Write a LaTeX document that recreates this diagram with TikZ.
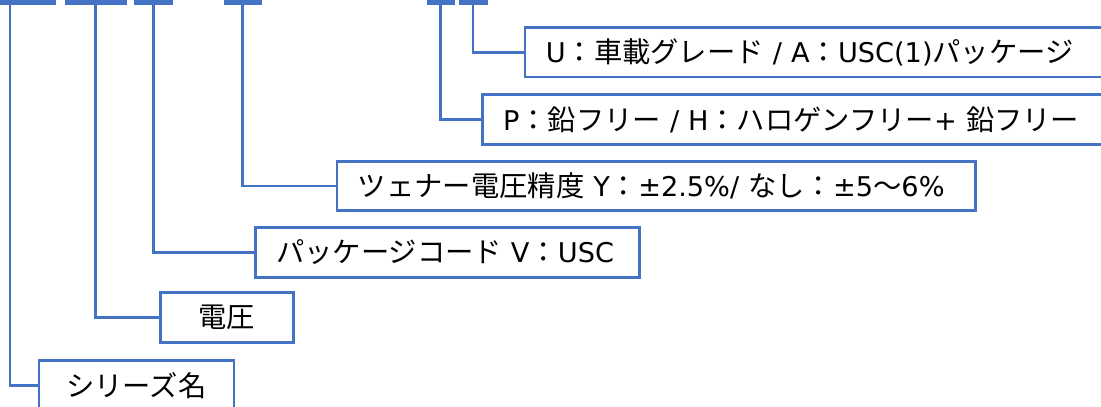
\documentclass[tikz,border=0pt]{standalone}
\usepackage{fontspec}
\setmainfont[Scale=0.96]{DejaVu Sans}
\newfontfamily\jpfont{Noto Sans CJK JP}
\usetikzlibrary{positioning}
\definecolor{lineblue}{HTML}{4472C4}
\newcommand{\jtext}[1]{{\jpfont #1}}

\begin{document}
\begin{tikzpicture}[x=1pt,y=-1pt,
    seg/.style={fill=lineblue,inner sep=0pt,minimum height=5pt},
    box/.style={draw=lineblue,line width=2.8pt,fill=white,inner sep=0pt,minimum height=49.5pt,anchor=west,font=\fontsize{28.3}{32}\selectfont},
    wide/.style={text width=#1,align=left,inner xsep=21pt},
    link/.style={draw=lineblue,line width=2.8pt}]
        \useasboundingbox (0,0) rectangle (1101,407);

        % code segments along the top
        \node[seg,minimum width=92pt] (seg1) at (10,2.5) {};
        \node[seg,minimum width=62pt] (seg2) at (95.5,2.5) {};
        \node[seg,minimum width=39pt] (seg3) at (153.5,2.5) {};
        \node[seg,minimum width=38pt] (seg4) at (242.5,2.5) {};
        \node[seg,minimum width=28pt] (seg5) at (440.5,2.5) {};
        \node[seg,minimum width=29pt] (seg6) at (473,2.5) {};

        \node[box,minimum width=195pt] (series) at (37.5,385.5) {\jtext{シリーズ名}};
        \node[box,minimum width=133pt] (volt) at (159,317.5) {\jtext{電圧}};
        \node[box,wide=342.7pt] (pkg) at (253.7,252.5) {\jtext{パッケージコード} V\jtext{：}USC};
        \node[box,wide=596.5pt] (tol) at (335.5,186) {\jtext{ツェナー電圧精度} Y\jtext{：}±2.5\%/ \jtext{なし：}±5\jtext{～}6\%};
        \node[box,wide=610pt] (lead) at (480.7,119.5) {P\jtext{：鉛フリー} / H\jtext{：ハロゲンフリー}+ \jtext{鉛フリー}};
        \node[box,wide=570pt] (grade) at (523.5,52.3) {U\jtext{：車載グレード} / A\jtext{：}USC(1)\jtext{パッケージ}};

        \foreach \from/\to in {seg1/series,seg2/volt,seg3/pkg,seg4/tol,seg5/lead,seg6/grade}
        \draw[link] (\from.south) |- (\to.west);
\end{tikzpicture}
\end{document}
